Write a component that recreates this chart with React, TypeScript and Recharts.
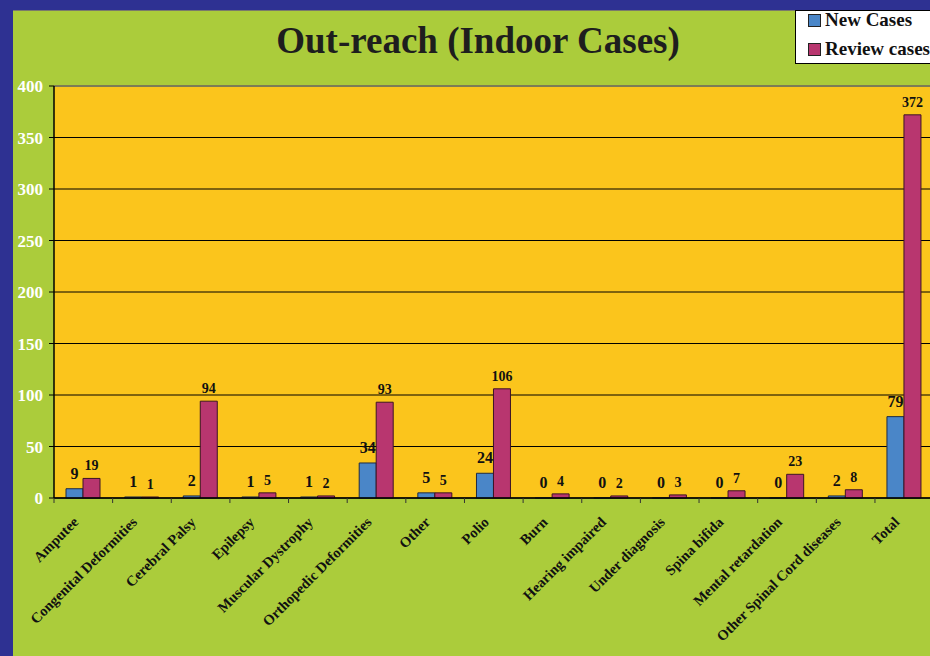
import React from 'react';
import { BarChart, Bar, XAxis, YAxis, CartesianGrid, LabelList, Legend, ReferenceLine } from 'recharts';

const categories = [
  'Amputee', 'Congenital Deformities', 'Cerebral Palsy', 'Epilepsy', 'Muscular Dystrophy',
  'Orthopedic Deformities', 'Other', 'Polio', 'Burn', 'Hearing impaired', 'Under diagnosis',
  'Spina bifida', 'Mental retardation', 'Other Spinal Cord diseases', 'Total',
];
const newCases = [9, 1, 2, 1, 1, 34, 5, 24, 0, 0, 0, 0, 0, 2, 79];
const reviewCases = [19, 1, 94, 5, 2, 93, 5, 106, 4, 2, 3, 7, 23, 8, 372];
const yTicks = [0, 50, 100, 150, 200, 250, 300, 350, 400];

const data = categories.map((name, i) => ({ name, newCases: newCases[i], reviewCases: reviewCases[i] }));

const FONT = '"Liberation Serif", "Times New Roman", serif';
const CHART_W = 940;
const CHART_H = 656;
const MARGIN = { top: 86, right: 6.4, bottom: 8, left: 13 };
const Y_W = 41;
const PLOT_W = CHART_W - MARGIN.left - Y_W - MARGIN.right;
const STEP = PLOT_W / categories.length;

const zeroVisible = (value: any) => (value === 0 ? 0.01 : 0);

const XTick = (props: any) => {
  const { x, y, payload } = props;
  const ax = x - 4;
  const ay = y + 20;
  return (
    <g>
      <line x1={x - STEP / 2} x2={x - STEP / 2} y1={y - 5} y2={y} stroke="#333" strokeWidth={1} />
      <text
        x={ax}
        y={ay}
        transform={`rotate(-45, ${ax}, ${ay})`}
        textAnchor="end"
        fontFamily={FONT}
        fontWeight="bold"
        fontSize={14.5}
        fill="#111"
      >
        {payload.value}
      </text>
    </g>
  );
};

const LegendBox = (props: any) => {
  const { payload } = props;
  return (
    <div
      style={{
        background: '#fff',
        border: '1px solid #000',
        width: 150,
        height: 54,
        boxSizing: 'border-box',
        paddingLeft: 12,
        paddingTop: 0,
      }}
    >
      {(payload || []).map((p: any, i: number) => (
        <div
          key={p.value}
          style={{ display: 'flex', alignItems: 'center', height: 18, marginTop: i === 0 ? 0 : 11 }}
        >
          <span
            style={{
              display: 'inline-block',
              width: 13,
              height: 13,
              background: p.color,
              border: '1px solid #222',
              boxSizing: 'border-box',
              marginRight: 4,
              flexShrink: 0,
            }}
          />
          <span
            style={{
              fontFamily: FONT,
              fontWeight: 'bold',
              fontSize: 19,
              lineHeight: '18px',
              color: '#111',
              whiteSpace: 'nowrap',
            }}
          >
            {p.value}
          </span>
        </div>
      ))}
    </div>
  );
};

export default function App() {
  return (
    <div style={{ position: 'absolute', left: 0, top: 0, width: 930, height: 656, overflow: 'hidden', background: '#2E3192' }}>
      <div
        style={{
          position: 'absolute',
          left: 13,
          top: 10,
          width: 917,
          height: 646,
          background: '#ABCC3B',
          borderTop: '1px solid #7a7a6a',
          boxSizing: 'border-box',
        }}
      />
      <div
        style={{
          position: 'absolute',
          left: 0,
          top: 19,
          width: 956,
          textAlign: 'center',
          fontFamily: FONT,
          fontWeight: 'bold',
          fontSize: 37,
          color: '#1e1e1e',
          whiteSpace: 'nowrap',
        }}
      >
        Out-reach (Indoor Cases)
      </div>
      <div style={{ position: 'absolute', left: 0, top: 0 }}>
        <BarChart width={CHART_W} height={CHART_H} data={data} margin={MARGIN} barSize={17} barGap={0}>
          <CartesianGrid vertical={false} stroke="#000" fill="#FBC51C" fillOpacity={1} />
          <ReferenceLine y={400} stroke="#7d7d55" strokeWidth={2} />
          <XAxis
            dataKey="name"
            interval={0}
            height={150}
            tickSize={5}
            tickMargin={0}
            tickLine={false}
            axisLine={{ stroke: '#000', strokeWidth: 1.5 }}
            tick={<XTick />}
          />
          <YAxis
            width={Y_W}
            domain={[0, 400]}
            ticks={yTicks}
            interval={0}
            tickSize={5}
            tickMargin={6}
            axisLine={{ stroke: '#000', strokeWidth: 1.5 }}
            tickLine={{ stroke: '#000' }}
            tick={{ fill: '#fff', fontFamily: FONT, fontWeight: 'bold', fontSize: 17 }}
          />
          <Legend
            layout="vertical"
            align="center"
            verticalAlign="middle"
            content={<LegendBox />}
            wrapperStyle={{ position: 'absolute', left: 795, top: 10, width: 150, height: 54 }}
          />
          <Bar
            dataKey="newCases"
            name="New Cases"
            fill="#4A86C8"
            stroke="#1d2b44"
            strokeWidth={1}
            minPointSize={zeroVisible}
            isAnimationActive={false}
          >
            <LabelList
              dataKey="newCases"
              position="top"
              offset={10}
              fill="#111"
              fontFamily={FONT}
              fontWeight="bold"
              fontSize={16}
            />
          </Bar>
          <Bar
            dataKey="reviewCases"
            name="Review cases"
            fill="#B8366F"
            stroke="#3d1426"
            strokeWidth={1}
            isAnimationActive={false}
          >
            <LabelList
              dataKey="reviewCases"
              position="top"
              offset={8}
              fill="#111"
              fontFamily={FONT}
              fontWeight="bold"
              fontSize={14}
            />
          </Bar>
        </BarChart>
      </div>
    </div>
  );
}
